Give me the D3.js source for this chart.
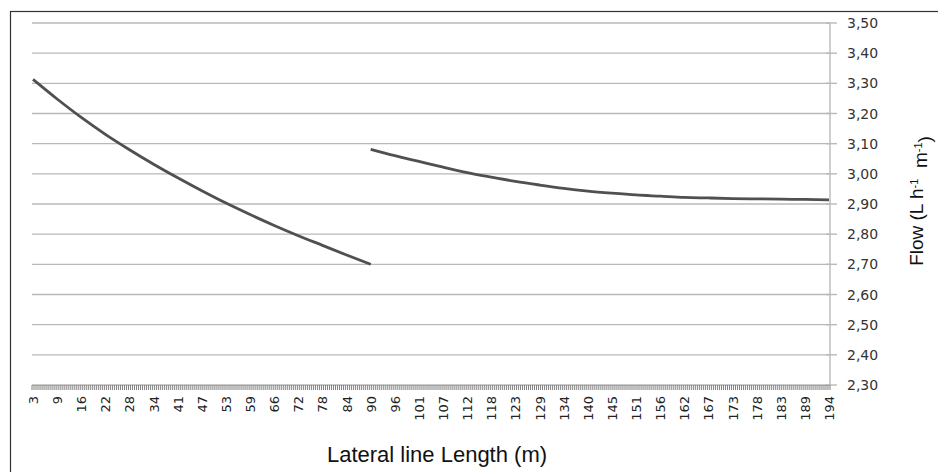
<!DOCTYPE html>
<html>
<head>
<meta charset="utf-8">
<script src="https://cdn.jsdelivr.net/npm/d3@7/dist/d3.min.js"></script>
<style>
  body { margin: 0; background: #fff; }
</style>
</head>
<body>
<div id="chart"></div>
<script>
// x axis: one category per ~0.5 m, a label every 12 categories
var categoryCount = 397;
var labelEvery = 12;
var xLabels = ["3", "9", "16", "22", "28", "34", "41", "47", "53", "59", "66", "72", "78", "84", "90",
               "96", "101", "107", "112", "118", "123", "129", "134", "140", "145", "151", "156",
               "162", "167", "173", "178", "183", "189", "194"];

// flow values read at each labelled category
var series1 = [3.313, 3.248, 3.187, 3.131, 3.080, 3.032, 2.987, 2.944, 2.903, 2.865,
               2.829, 2.795, 2.763, 2.731, 2.700];                     // labels 3 .. 90
var series2 = [3.081, 3.060, 3.041, 3.022, 3.004, 2.989, 2.975, 2.963, 2.952, 2.943,
               2.936, 2.930, 2.926, 2.922, 2.920, 2.918, 2.917, 2.916, 2.915, 2.914]; // labels 90 .. 194
var series2Start = 14; // label index where series 2 begins

var yTicks = [3.50, 3.40, 3.30, 3.20, 3.10, 3.00, 2.90, 2.80, 2.70, 2.60, 2.50, 2.40, 2.30];

(function() {
    var svg = d3.select("#chart").append("svg")
        .attr("width", 938)
        .attr("height", 472);

    var box = {xmin: 32, xmax: 830, ymin: 23, ymax: 385};

    // outer frame
    svg.append("rect")
        .attr("x", 10.5).attr("y", 11.5)
        .attr("width", 1000).attr("height", 1000)
        .attr("fill", "none")
        .attr("stroke", "#333")
        .attr("stroke-width", 1.2);

    var x = d3.scaleBand()
        .domain(d3.range(categoryCount))
        .range([box.xmin, box.xmax])
        .padding(0);

    var y = d3.scaleLinear()
        .domain([2.3, 3.5])
        .range([box.ymax, box.ymin]);

    var fmt = d3.formatLocale({decimal: ",", thousands: ".", grouping: [3], currency: ["", ""]}).format(".2f");

    // gridlines
    svg.selectAll(".gridline")
        .data(yTicks)
        .enter().append("line")
            .attr("class", "gridline")
            .attr("x1", box.xmin)
            .attr("x2", box.xmax)
            .attr("y1", function(d) { return y(d); })
            .attr("y2", function(d) { return y(d); })
            .attr("stroke", "#b9b9b9")
            .attr("stroke-width", 1.4);

    // right value axis
    svg.append("line")
        .attr("x1", box.xmax).attr("x2", box.xmax)
        .attr("y1", box.ymin).attr("y2", box.ymax)
        .attr("stroke", "#b9b9b9")
        .attr("stroke-width", 1.4);

    svg.selectAll(".ytick")
        .data(yTicks)
        .enter().append("line")
            .attr("class", "ytick")
            .attr("x1", box.xmax - 4)
            .attr("x2", box.xmax + 7)
            .attr("y1", function(d) { return y(d); })
            .attr("y2", function(d) { return y(d); })
            .attr("stroke", "#b9b9b9")
            .attr("stroke-width", 1.4);

    svg.selectAll(".ylabel")
        .data(yTicks)
        .enter().append("text")
            .attr("class", "ylabel")
            .attr("x", box.xmax + 17)
            .attr("y", function(d) { return y(d); })
            .attr("dy", "0.36em")
            .attr("fill", "#333")
            .style("font-family", "'DejaVu Sans', Verdana, sans-serif")
            .style("font-size", "14px")
            .text(function(d) { return fmt(d); });

    // category tick marks (dense)
    svg.selectAll(".xtick")
        .data(d3.range(categoryCount + 1))
        .enter().append("line")
            .attr("class", "xtick")
            .attr("x1", function(d) { return box.xmin + d * x.step(); })
            .attr("x2", function(d) { return box.xmin + d * x.step(); })
            .attr("y1", box.ymax)
            .attr("y2", box.ymax + 5)
            .attr("stroke", "#808080")
            .attr("stroke-width", 1);

    // category labels, rotated
    svg.selectAll(".xlabel")
        .data(xLabels)
        .enter().append("text")
            .attr("class", "xlabel")
            .attr("text-anchor", "end")
            .attr("fill", "#222")
            .style("font-family", "'DejaVu Sans', Verdana, sans-serif")
            .style("font-size", "13px")
            .attr("transform", function(d, i) {
                var cx = x(i * labelEvery) + x.bandwidth() / 2;
                return "translate(" + (cx + 5) + "," + (box.ymax + 11) + ") rotate(-90)";
            })
            .text(function(d) { return d; });

    // lines
    var line = d3.line()
        .x(function(d) { return x(d[0] * labelEvery) + x.bandwidth() / 2; })
        .y(function(d) { return y(d[1]); })
        .curve(d3.curveMonotoneX);

    var pts1 = series1.map(function(v, i) { return [i, v]; });
    var pts2 = series2.map(function(v, i) { return [i + series2Start, v]; });

    [pts1, pts2].forEach(function(pts) {
        svg.append("path")
            .datum(pts)
            .attr("d", line)
            .attr("fill", "none")
            .attr("stroke", "#505050")
            .attr("stroke-width", 2.8)
            .attr("stroke-linecap", "butt");
    });

    // axis titles
    svg.append("text")
        .attr("x", 437)
        .attr("y", 462)
        .attr("text-anchor", "middle")
        .attr("fill", "#111")
        .style("font-family", "'Liberation Sans', Arial, sans-serif")
        .style("font-size", "22px")
        .text("Lateral line Length (m)");

    var yt = svg.append("text")
        .attr("text-anchor", "middle")
        .attr("transform", "translate(923,201) rotate(-90)")
        .attr("fill", "#111")
        .style("font-family", "'Liberation Sans', Arial, sans-serif")
        .style("font-size", "19px");
    yt.append("tspan").text("Flow (L h");
    yt.append("tspan").attr("dy", "-0.5em").style("font-size", "11px").text("-1");
    yt.append("tspan").attr("dy", "0.5em").text("\u00a0 m");
    yt.append("tspan").attr("dy", "-0.5em").style("font-size", "11px").text("-1");
    yt.append("tspan").attr("dy", "0.5em").text(")");
})();
</script>
</body>
</html>
